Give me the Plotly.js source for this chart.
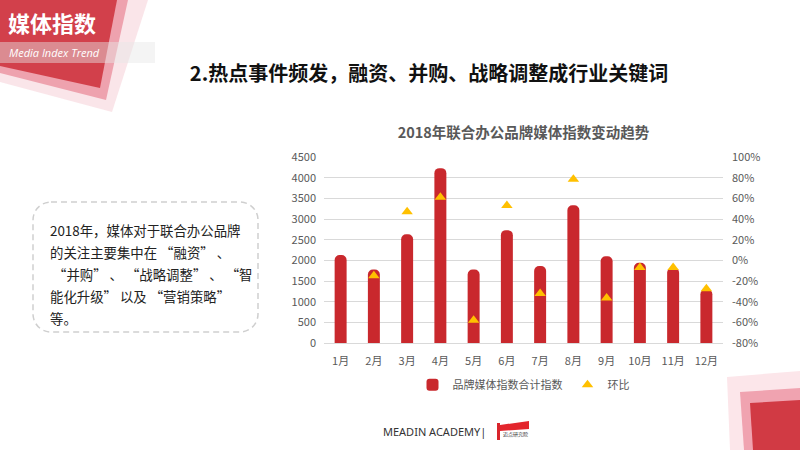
<!DOCTYPE html>
<html>
<head>
<meta charset="utf-8">
<script src="https://cdn.plot.ly/plotly-3.0.1.min.js"></script>
<style>
  html, body { margin:0; padding:0; background:#fff; }
  #wrap { position:relative; width:800px; height:450px; overflow:hidden; background:#fff; font-family:"Noto Sans CJK SC","Noto Sans",sans-serif; }
  #bg { position:absolute; left:0; top:0; z-index:0; }
  #chart { position:absolute; left:0; top:0; width:800px; height:450px; z-index:1; }
  .ov { position:absolute; z-index:2; white-space:nowrap; }
</style>
</head>
<body>
<div id="wrap">
  <svg id="bg" width="800" height="450">
    <polygon points="0,0 148,0 112,112 0,82" fill="#f7d4da" opacity="0.6"/>
    <polygon points="0,0 128,0 106,100 0,73" fill="#eea2ae"/>
    <polygon points="0,0 117,0 100,88 0,66" fill="#d2404b"/>
    <rect x="0" y="42" width="155" height="21" fill="#e6e6e6" opacity="0.45"/>
    <polygon points="727,377 800,371 800,450 730,450" fill="#fce6ea"/>
    <polygon points="740,392 800,388 800,450 744,450" fill="#f0a3b0"/>
    <polygon points="750,403 800,400 800,450 753,450" fill="#d13a44"/>
    <rect x="33" y="202" width="225" height="130" rx="18" ry="18" fill="none" stroke="#cfcfcf" stroke-width="1.5" stroke-dasharray="6,4"/>
    <polygon points="497,423 500,423 500,440 497,440" fill="#d9252c"/>
    <polygon points="500,425 529,421 529,429 500,431" fill="#e3262d"/>
  </svg>
  <div id="chart"></div>
  <div class="ov" style="left:8px; top:8px; font-size:22px; font-weight:bold; color:#fff; line-height:28px;">媒体指数</div>
  <div class="ov" style="left:9px; top:45px; font-size:11px; font-style:italic; color:#fff; line-height:16px; font-family:'Open Sans',sans-serif;">Media Index Trend</div>
  <div class="ov" style="left:0; width:858px; text-align:center; top:60px; font-size:20px; font-weight:bold; color:#111; line-height:26px;">2.热点事件频发，融资、并购、战略调整成行业关键词</div>
  <div class="ov" style="left:50px; top:219px; font-size:13.4px; color:#222; line-height:22px;">
    2018年，媒体对于联合办公品牌<br>
    的关注主要集中在 “融资” 、<br>
    &nbsp;“并购” 、 “战略调整” 、 “智<br>
    能化升级” 以及 “营销策略”<br>
    等。
  </div>
  <div class="ov" style="left:383px; top:424px; font-size:11px; color:#333; line-height:16px; font-family:'Noto Sans',sans-serif;">MEADIN ACADEMY|</div>
  <div class="ov" style="left:503px; top:430px; font-size:5px; color:#333; line-height:7px;">迈点研究院</div>
</div>
<script>
const months = ["1月","2月","3月","4月","5月","6月","7月","8月","9月","10月","11月","12月"];
const indexValues = [2130, 1780, 2630, 4230, 1780, 2730, 1860, 3330, 2100, 1940, 1820, 1300];
const momChange = [null, -0.15, 0.47, 0.61, -0.58, 0.53, -0.32, 0.785, -0.365, -0.07, -0.07, -0.275];
const leftTicks = [0, 500, 1000, 1500, 2000, 2500, 3000, 3500, 4000, 4500];
const rightTickVals = [-0.8, -0.6, -0.4, -0.2, 0, 0.2, 0.4, 0.6, 0.8, 1.0];
const rightTickLabels = ["-80%","-60%","-40%","-20%","0%","20%","40%","60%","80%","100%"];
const seriesNames = ["品牌媒体指数合计指数", "环比"];
const chartTitle = "2018年联合办公品牌媒体指数变动趋势";

const font = "Noto Sans CJK SC, Noto Sans, sans-serif";
const tickColor = "#595959";

const traces = [
  {
    type: "bar",
    name: seriesNames[0],
    x: months,
    y: indexValues,
    marker: { color: "#c9282d", cornerradius: 5 },
    hoverinfo: "skip"
  },
  {
    type: "scatter",
    mode: "markers",
    name: seriesNames[1],
    x: months,
    y: momChange,
    yaxis: "y2",
    marker: { symbol: "triangle-up", color: "#ffc000", size: 10 },
    hoverinfo: "skip"
  }
];

const layout = {
  width: 800,
  height: 450,
  margin: { l: 324, r: 77, t: 157, b: 107 },
  paper_bgcolor: "rgba(0,0,0,0)",
  plot_bgcolor: "rgba(0,0,0,0)",
  font: { family: font, size: 11, color: tickColor },
  showlegend: true,
  bargap: 0.64,
  title: {
    text: chartTitle,
    font: { family: font, size: 14.5, color: "#595959", weight: "bold" },
    xref: "paper", x: 0.5, xanchor: "center",
    yref: "container", y: 1 - 133/450, yanchor: "middle"
  },
  xaxis: {
    type: "category",
    range: [-0.5, months.length - 0.5],
    autorange: false,
    showgrid: false,
    showline: true,
    linecolor: "#d9d9d9",
    linewidth: 1,
    ticks: "",
    ticklabelstandoff: 8,
    tickfont: { family: font, size: 11, color: tickColor },
    fixedrange: true
  },
  yaxis: {
    range: [0, 4500],
    tickvals: leftTicks,
    showgrid: true,
    gridcolor: "#d9d9d9",
    gridwidth: 1,
    zeroline: false,
    showline: false,
    ticks: "",
    ticklabelstandoff: 7,
    tickfont: { family: font, size: 11, color: tickColor },
    fixedrange: true
  },
  yaxis2: {
    overlaying: "y",
    side: "right",
    range: [-0.8, 1.0],
    tickvals: rightTickVals,
    ticktext: rightTickLabels,
    showgrid: false,
    zeroline: false,
    showline: false,
    ticks: "",
    ticklabelstandoff: 8,
    tickfont: { family: font, size: 11, color: tickColor },
    fixedrange: true
  },
  legend: {
    orientation: "h",
    x: 0.50, xanchor: "center",
    y: -0.225, yanchor: "middle",
    font: { family: font, size: 11, color: tickColor },
    itemwidth: 30,
    bgcolor: "rgba(0,0,0,0)"
  }
};

Plotly.newPlot("chart", traces, layout, { displayModeBar: false, staticPlot: true });
</script>
</body>
</html>
